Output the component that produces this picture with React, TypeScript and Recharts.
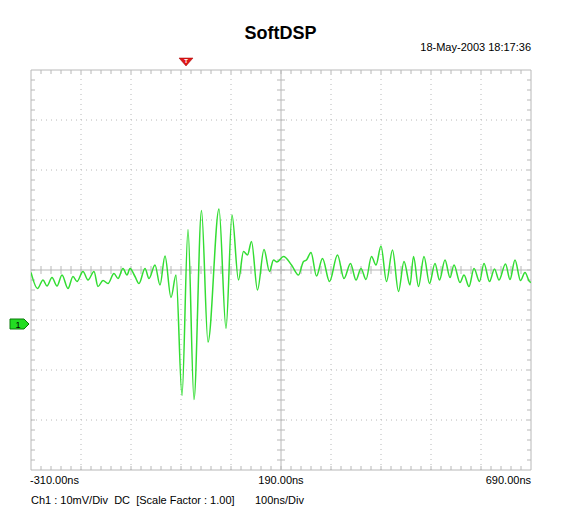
import React from "react";
import {
  LineChart,
  Line,
  XAxis,
  YAxis,
  ReferenceLine,
  ReferenceDot,
} from "recharts";

// time (ns) and Ch1 (mV)
const timeNs = [
  -310, -297, -286, -278, -268, -258, -248, -236, -226, -218, -206, -196,
  -184, -176, -166, -156, -144, -136, -126, -118, -112, -102, -94, -82, -74,
  -62, -52, -42, -30, -20, -8, 4, 16, 31, 44, 66, 80, 92, 105, 115, 123, 131,
  143, 156, 167, 175, 182, 195, 211, 225, 235, 241, 250, 261, 273, 287, 303,
  316, 329, 340, 350, 360, 371, 380, 390, 401, 413, 425, 436, 448, 455, 465,
  476, 487, 498, 507, 518, 528, 536, 548, 556, 566, 576, 587, 596, 607, 617,
  626, 639, 648, 658, 669, 678, 687, 690,
];
const ch1mV = [
  -0.5, -3.7, -2.0, -3.2, -1.5, -3.2, -1.0, -3.7, -1.3, -2.3, -0.3, -2.0,
  -0.3, -3.3, -2.1, -2.7, -0.7, -1.7, 0.3, -1.0, 0.3, -1.3, -2.7, 0.3, -1.7,
  1.0, -3.0, 2.8, -5.5, -1.0, -25.1, 8.1, -25.9, 11.9, -14.4, 12.2, -11.7,
  11.0, -2.0, 3.7, 3.0, 5.7, -4.0, 4.1, -0.3, 2.0, 1.6, 2.7, 1.0, -1.0, 1.7,
  2.0, 3.5, -1.2, 2.3, -2.3, 3.0, -1.7, 1.3, -2.0, 0.3, -1.9, 2.7, 1.0, 4.8,
  -2.3, 4.0, -4.3, 1.7, -3.0, 2.7, -3.3, 2.7, -2.7, 1.3, -2.0, 2.0, -1.5, 1.0,
  -2.5, -1.0, -3.3, 0.3, -2.3, 1.3, -2.3, 0.2, -2.0, 1.2, -1.9, 2.0, -2.1,
  -0.5, -2.3, -2.5,
];

const xTicks = [-310, 190, 690];
const xTickLabels = ["-310.00ns", "190.00ns", "690.00ns"];
const xDivs = [-210, -110, -10, 90, 290, 390, 490, 590];
const yDivs = [-30, -20, -10, 10, 20, 30];
const triggerNs = 0;
const ch1GroundMV = -10.8;

const X0 = -310;
const X1 = 690;
const Y0 = -40;
const Y1 = 40;
const minorX: number[] = [];
for (let t = X0 + 20; t < X1; t += 20) minorX.push(t);
const minorY: number[] = [];
for (let v = Y0 + 2; v < Y1; v += 2) minorY.push(v);

const data = timeNs.map((t, i) => ({ t, v: ch1mV[i] }));

const GRID = "#b8b8b8";
const TRACE = "#33dd33";
const FONT = "'Liberation Sans', Arial, sans-serif";

const Tick = (props: any) => {
  const { x, y, index } = props;
  const anchor = index === 0 ? "start" : index === xTicks.length - 1 ? "end" : "middle";
  const dx = index === 0 ? -1 : 0;
  return (
    <text x={x + dx} y={y + 14} textAnchor={anchor} fontSize={11} fontFamily={FONT} fill="#000">
      {xTickLabels[index]}
    </text>
  );
};

const TriggerMark = (p: any) => {
  const { cx, cy } = p;
  return (
    <g>
      <polygon
        points={`${cx - 7},${cy - 12} ${cx + 7},${cy - 12} ${cx},${cy - 4}`}
        fill="#e01818"
        stroke="#a00000"
        strokeWidth={0.5}
      />
      <text x={cx} y={cy - 7} textAnchor="middle" fontSize={6} fontWeight="bold" fill="#fff" fontFamily={FONT}>
        T
      </text>
    </g>
  );
};

const ChannelMark = (p: any) => {
  const { cx, cy } = p;
  return (
    <g>
      <polygon
        points={`${cx - 21},${cy - 5} ${cx - 7},${cy - 5} ${cx - 2},${cy} ${cx - 7},${cy + 5} ${cx - 21},${cy + 5}`}
        fill="#22dd22"
        stroke="#0a7a0a"
        strokeWidth={1}
      />
      <text x={cx - 13} y={cy + 3.5} textAnchor="middle" fontSize={9} fill="#000" fontFamily={FONT}>
        1
      </text>
    </g>
  );
};

export default function App() {
  return (
    <div style={{ position: "absolute", left: 0, top: 0, width: 561, height: 526, background: "#fff", fontFamily: FONT }}>
      <div style={{ position: "absolute", left: 0, top: 23, width: 561, textAlign: "center", fontSize: 18, fontWeight: "bold", lineHeight: "20px" }}>
        SoftDSP
      </div>
      <div style={{ position: "absolute", right: 30, top: 40, fontSize: 11, lineHeight: "14px" }}>
        18-May-2003 18:17:36
      </div>
      <LineChart
        width={561}
        height={526}
        data={data}
        margin={{ top: 70, right: 30, left: 31, bottom: 26 }}
      >
        <XAxis
          dataKey="t"
          type="number"
          domain={[X0, X1]}
          ticks={xTicks}
          height={30}
          axisLine={false}
          tickLine={false}
          tickSize={0}
          tickMargin={0}
          tick={<Tick />}
          allowDataOverflow
        />
        <YAxis type="number" domain={[Y0, Y1]} hide width={0} allowDataOverflow />

        {xDivs.map((t) => (
          <ReferenceLine key={`gx${t}`} x={t} stroke={GRID} strokeDasharray="1 4" />
        ))}
        {yDivs.map((v) => (
          <ReferenceLine key={`gy${v}`} y={v} stroke={GRID} strokeDasharray="1 4" />
        ))}

        {minorX.map((t) => (
          <ReferenceLine key={`tt${t}`} segment={[{ x: t, y: Y1 }, { x: t, y: Y1 - 0.8 }]} stroke={GRID} />
        ))}
        {minorX.map((t) => (
          <ReferenceLine key={`tb${t}`} segment={[{ x: t, y: Y0 }, { x: t, y: Y0 + 0.8 }]} stroke={GRID} />
        ))}
        {minorX.map((t) => (
          <ReferenceLine key={`tc${t}`} segment={[{ x: t, y: -0.8 }, { x: t, y: 0.8 }]} stroke={GRID} />
        ))}
        {minorY.map((v) => (
          <ReferenceLine key={`tl${v}`} segment={[{ x: X0, y: v }, { x: X0 + 8, y: v }]} stroke={GRID} />
        ))}
        {minorY.map((v) => (
          <ReferenceLine key={`tr${v}`} segment={[{ x: X1, y: v }, { x: X1 - 8, y: v }]} stroke={GRID} />
        ))}
        {minorY.map((v) => (
          <ReferenceLine key={`tm${v}`} segment={[{ x: 182, y: v }, { x: 198, y: v }]} stroke={GRID} />
        ))}

        <ReferenceLine x={190} stroke={GRID} />
        <ReferenceLine y={0} stroke={GRID} />
        <ReferenceLine x={X0} stroke={GRID} />
        <ReferenceLine x={X1} stroke={GRID} />
        <ReferenceLine y={Y0} stroke={GRID} />
        <ReferenceLine y={Y1} stroke={GRID} />

        <Line
          dataKey="v"
          type="monotone"
          stroke={TRACE}
          strokeWidth={1.5}
          dot={false}
          isAnimationActive={false}
        />

        <ReferenceDot x={triggerNs} y={Y1} r={0} ifOverflow="visible" shape={<TriggerMark />} />
        <ReferenceDot x={X0} y={ch1GroundMV} r={0} ifOverflow="visible" shape={<ChannelMark />} />
      </LineChart>
      <div style={{ position: "absolute", left: 31, top: 493, fontSize: 11, lineHeight: "14px", whiteSpace: "pre" }}>
        {"Ch1 : 10mV/Div  DC  [Scale Factor : 1.00]"}
      </div>
      <div style={{ position: "absolute", left: 255, top: 493, fontSize: 11, lineHeight: "14px", whiteSpace: "pre" }}>
        100ns/Div
      </div>
    </div>
  );
}
